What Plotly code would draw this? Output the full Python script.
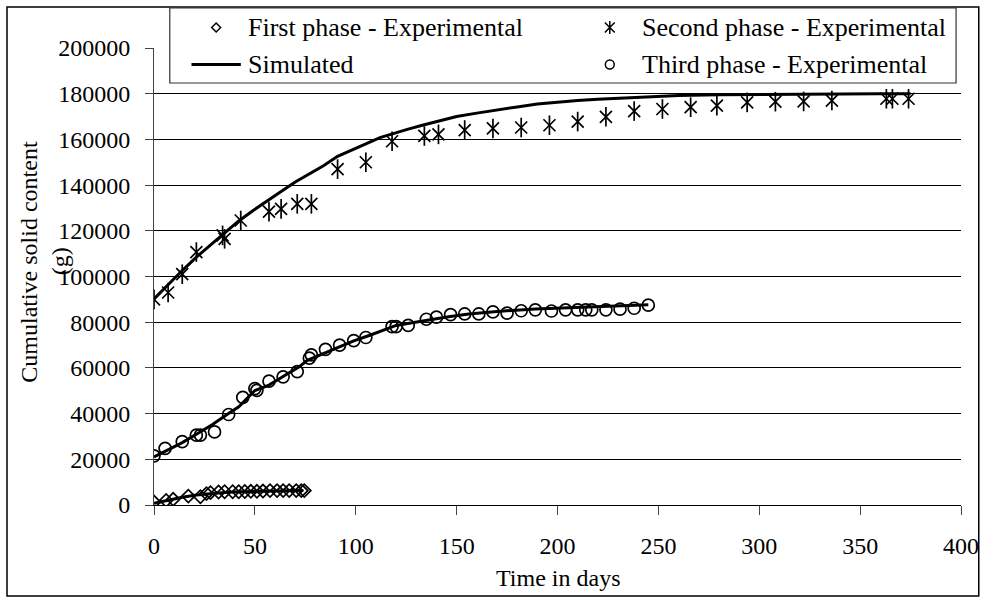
import plotly.graph_objects as go

W, H = 991, 598

# ---------------- data ----------------
t_first = [0, 6, 9.5, 17, 23, 26, 28, 32, 35, 39, 42, 45, 48, 51, 54, 57.5, 61, 64, 67, 70.5, 73, 74.5]
v_first = [1300, 2000, 2500, 3900, 3600, 5000, 5400, 5700, 5800, 5800, 5800, 5900, 6000, 6000,
           6100, 6300, 6300, 6300, 6300, 6300, 6300, 6300]

t_second = [0, 7, 14, 21, 34, 35, 43, 57, 63, 71, 78, 91, 105, 118, 134, 141, 154, 168, 182,
            196, 210, 224, 238, 252, 266, 279, 294, 308, 322, 336, 363, 366, 374]
v_second = [90000, 93000, 101000, 110700, 118000, 116500, 124500, 128400, 129600, 131800, 131800,
            147000, 150000, 159200, 161500, 162200, 164100, 164800, 165200, 166200, 167800, 169900,
            172400, 173300, 174100, 174800, 176200, 176500, 176600, 177000, 177800, 177800, 177800]

t_third = [0, 5.5, 14, 21, 23, 30, 37, 44, 50, 51, 57, 64, 71, 77, 78, 85, 92, 99, 105, 118,
           120, 126, 135, 140, 147, 154, 161, 168, 175, 182, 189, 197, 204, 210, 214, 217, 224,
           231, 238, 245]
v_third = [21500, 24800, 27700, 30600, 30600, 32000, 39600, 47100, 50900, 50200, 54200, 56100,
           58400, 64300, 65700, 68100, 70000, 71900, 73300, 78100, 78100, 78600, 81300, 82200,
           83300, 83600, 83600, 84500, 84000, 85000, 85400, 84900, 85400, 85400, 85400, 85400,
           85400, 85700, 86100, 87500]

t_sim1 = [0, 7, 14, 21, 28, 35, 42, 49, 56, 63, 70, 74]
v_sim1 = [800, 2200, 3400, 4400, 5100, 5500, 5800, 6000, 6150, 6250, 6300, 6350]

t_sim2 = [0, 7, 14, 21, 28, 35, 42, 49, 56, 63, 70, 77, 84, 91, 98, 105, 112, 119, 126, 133,
          140, 150, 160, 170, 180, 190, 200, 210, 220, 230, 240, 250, 260, 280, 300, 320, 340,
          360, 375]
v_sim2 = [90200, 96500, 102600, 108500, 113700, 119200, 124300, 128800, 133200, 137200, 141400,
          144800, 148500, 152600, 155200, 158000, 160800, 162800, 164500, 166200, 167800, 170000,
          171500, 173000, 174200, 175500, 176400, 177000, 177600, 178000, 178300, 178600, 179200,
          179500, 179700, 179800, 179900, 180000, 180000]

t_sim3 = [0, 7, 14, 21, 29, 36, 42, 50, 57, 65, 72, 76, 84, 91, 99, 107, 113, 120, 128, 136,
          146, 156, 170, 189, 205, 220, 235, 245]
v_sim3 = [21000, 24000, 27300, 31000, 35200, 39500, 43000, 50100, 52500, 56800, 60500, 63300,
          66300, 68900, 71800, 74300, 76400, 78600, 79800, 81000, 82400, 83600, 84700, 85800,
          86300, 86800, 87200, 87600]

x_ticks = [0, 50, 100, 150, 200, 250, 300, 350, 400]
y_ticks = [0, 20000, 40000, 60000, 80000, 100000, 120000, 140000, 160000, 180000, 200000]

legend_labels = ["First phase - Experimental", "Second phase - Experimental",
                 "Simulated", "Third phase - Experimental"]

# ---------------- layout helpers ----------------
L, R, T, B = 154, 19, 48, 93
PW, PH = W - L - R, H - T - B
FONT = "Liberation Serif"


def px(x):
    return (x - L) / PW


def py(y):
    return (H - B - y) / PH


fig = go.Figure()

line_style = dict(color="black", width=3)
for tx, vy in [(t_sim1, v_sim1), (t_sim2, v_sim2), (t_sim3, v_sim3)]:
    fig.add_trace(go.Scatter(x=tx, y=vy, mode="lines", line=line_style, hoverinfo="skip"))

mk_line = dict(color="black", width=1.7)
fig.add_trace(go.Scatter(x=t_first, y=v_first, mode="markers",
                         marker=dict(symbol="diamond-open", size=10, color="black", line=mk_line)))
fig.add_trace(go.Scatter(x=t_third, y=v_third, mode="markers",
                         marker=dict(symbol="circle-open", size=12, color="black", line=mk_line)))
fig.add_trace(go.Scatter(x=t_second, y=v_second, mode="markers",
                         marker=dict(symbol="x-thin-open", size=12, color="black", line=mk_line)))
fig.add_trace(go.Scatter(x=t_second, y=v_second, mode="markers",
                         marker=dict(symbol="line-ns-open", size=14, color="black", line=mk_line)))

shapes = []
# outer frame
shapes.append(dict(type="rect", xref="paper", yref="paper", x0=px(5), x1=px(990), y0=py(596), y1=py(7),
                   line=dict(color="black", width=1.5), fillcolor="rgba(0,0,0,0)", layer="above"))
# legend box
shapes.append(dict(type="rect", xref="paper", yref="paper", x0=px(170), x1=px(967), y0=py(83), y1=py(8),
                   line=dict(color="#333", width=1.2), fillcolor="white", layer="above"))

# legend symbols
r1, r2 = 27.5, 64.5
c1, c2 = 217, 616
d = 4.5
shapes.append(dict(type="path", xref="paper", yref="paper",
                   path=f"M {px(c1)},{py(r1-d)} L {px(c1+d)},{py(r1)} L {px(c1)},{py(r1+d)} L {px(c1-d)},{py(r1)} Z",
                   line=dict(color="black", width=1.5), layer="above"))
s = 5
shapes.append(dict(type="path", xref="paper", yref="paper",
                   path=(f"M {px(c2-s)},{py(r1-s)} L {px(c2+s)},{py(r1+s)} "
                         f"M {px(c2-s)},{py(r1+s)} L {px(c2+s)},{py(r1-s)} "
                         f"M {px(c2)},{py(r1-6.5)} L {px(c2)},{py(r1+6.5)}"),
                   line=dict(color="black", width=1.5), layer="above"))
shapes.append(dict(type="line", xref="paper", yref="paper", x0=px(192), x1=px(242), y0=py(r2), y1=py(r2),
                   line=dict(color="black", width=3), layer="above"))
cr = 4.5
shapes.append(dict(type="circle", xref="paper", yref="paper", x0=px(c2-cr), x1=px(c2+cr),
                   y0=py(r2+cr), y1=py(r2-cr), line=dict(color="black", width=1.5), layer="above"))

annotations = []
for (xl, yl), lab in zip([(247, r1), (647, r1), (247, r2), (647, r2)], legend_labels):
    annotations.append(dict(x=px(xl), y=py(yl), xref="paper", yref="paper", text=lab, showarrow=False,
                            xanchor="left", yanchor="middle", font=dict(family=FONT, size=26, color="black")))

# axis titles
annotations.append(dict(x=px(27), y=py(262), xref="paper", yref="paper", text="Cumulative solid content",
                        showarrow=False, textangle=-90, xanchor="center", yanchor="middle",
                        font=dict(family=FONT, size=24, color="black")))
annotations.append(dict(x=px(59), y=py(261), xref="paper", yref="paper", text="(g)",
                        showarrow=False, textangle=-90, xanchor="center", yanchor="middle",
                        font=dict(family=FONT, size=24, color="black")))
annotations.append(dict(x=px(563), y=py(578), xref="paper", yref="paper", text="Time in days",
                        showarrow=False, xanchor="center", yanchor="middle",
                        font=dict(family=FONT, size=24, color="black")))

fig.update_layout(
    width=W, height=H,
    margin=dict(l=L, r=R, t=T, b=B, pad=0),
    paper_bgcolor="white", plot_bgcolor="white",
    showlegend=False,
    shapes=shapes, annotations=annotations,
    font=dict(family=FONT, size=24, color="black"),
    xaxis=dict(range=[0, 400], tickvals=x_ticks, ticks="outside", ticklen=9, tickcolor="#444",
               showgrid=False, zeroline=False, showline=True, linecolor="black", linewidth=1,
               ticklabelstandoff=10, tickfont=dict(family=FONT, size=24, color="black")),
    yaxis=dict(range=[0, 200000], tickvals=y_ticks, tickformat="d", ticks="outside", ticklen=8,
               tickcolor="#444", showgrid=True, gridcolor="black", gridwidth=1, zeroline=False,
               showline=True, linecolor="#444", linewidth=1, ticklabelstandoff=10,
               tickfont=dict(family=FONT, size=24, color="black")),
)

fig.write_html("out.html")
